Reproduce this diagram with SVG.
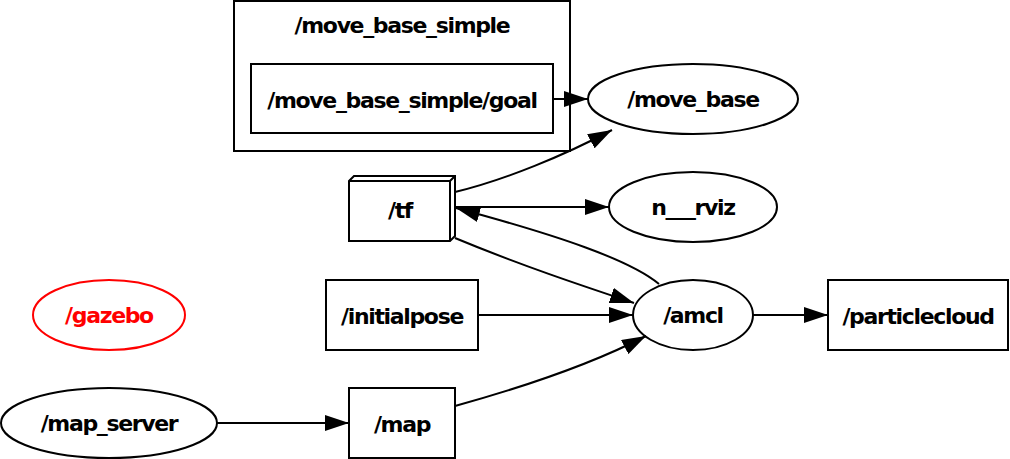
<svg xmlns="http://www.w3.org/2000/svg" width="1010" height="459" viewBox="0 0 1010 459">
<style>
  .s{fill:none;stroke:#000;stroke-width:2}
  .w{fill:#fff;stroke:#000;stroke-width:2}
  .t{font-family:"DejaVu Sans",sans-serif;font-weight:bold;font-size:22px;letter-spacing:-1.35px;text-anchor:middle;fill:#000}
  .e{fill:none;stroke:#000;stroke-width:2}
</style>
<defs>
  <marker id="b" viewBox="0 0 24 16" markerWidth="24" markerHeight="16" refX="24" refY="8" orient="auto" markerUnits="userSpaceOnUse">
    <path d="M0,0 L24,8 L0,16 Z" fill="#000"/>
  </marker>
</defs>
<rect width="1010" height="459" fill="#fff"/>
<g id="cluster_move_base_simple">
  <rect class="w" x="234" y="1" width="336" height="150"/>
  <text class="t" x="402" y="33">/move_base_simple</text>
</g>
<g id="goal">
  <rect class="w" x="251" y="64" width="302" height="69"/>
  <text class="t" x="402" y="108">/move_base_simple/goal</text>
</g>
<g id="move_base">
  <ellipse class="w" cx="693" cy="99" rx="105" ry="35"/>
  <text class="t" x="693" y="107">/move_base</text>
</g>
<g id="tf">
  <path class="w" d="M349,181 L354,176 L455,176 L455,236 L450,241 L349,241 Z"/>
  <path class="s" d="M349,181 L450,181 L450,241 M450,181 L455,176"/>
  <text class="t" x="400" y="218">/tf</text>
</g>
<g id="n___rviz">
  <ellipse class="w" cx="693" cy="207" rx="84" ry="35"/>
  <text class="t" x="693" y="215">n___rviz</text>
</g>
<g id="initialpose">
  <rect class="w" x="326" y="280" width="152" height="70"/>
  <text class="t" x="402" y="324">/initialpose</text>
</g>
<g id="amcl">
  <ellipse class="w" cx="693" cy="315" rx="60" ry="35"/>
  <text class="t" x="693" y="323">/amcl</text>
</g>
<g id="particlecloud">
  <rect class="w" x="828" y="280" width="180" height="70"/>
  <text class="t" x="918" y="324">/particlecloud</text>
</g>
<g id="gazebo">
  <ellipse cx="109" cy="315" rx="76" ry="35" fill="#fff" stroke="#f00" stroke-width="2"/>
  <text class="t" x="109" y="323" style="fill:#f00">/gazebo</text>
</g>
<g id="map_server">
  <ellipse class="w" cx="109" cy="423" rx="108" ry="35"/>
  <text class="t" x="109" y="431">/map_server</text>
</g>
<g id="map">
  <rect class="w" x="349" y="388" width="106" height="70"/>
  <text class="t" x="402" y="432">/map</text>
</g>
<g id="edges">
  <path class="e" d="M553,99 L588,99" marker-end="url(#b)"/>
  <path class="e" d="M455,192 C505,180 565,155 612,130" marker-end="url(#b)"/>
  <path class="e" d="M455,207 L609,207" marker-end="url(#b)"/>
  <path class="e" d="M659,284 C630,260 560,236 456,208" marker-end="url(#b)"/>
  <path class="e" d="M455,238 C520,265 580,285 634,303" marker-end="url(#b)"/>
  <path class="e" d="M478,315 L633,315" marker-end="url(#b)"/>
  <path class="e" d="M455,406 C520,388 590,365 646,336" marker-end="url(#b)"/>
  <path class="e" d="M753,315 L828,315" marker-end="url(#b)"/>
  <path class="e" d="M217,423 L349,423" marker-end="url(#b)"/>
</g>
</svg>
